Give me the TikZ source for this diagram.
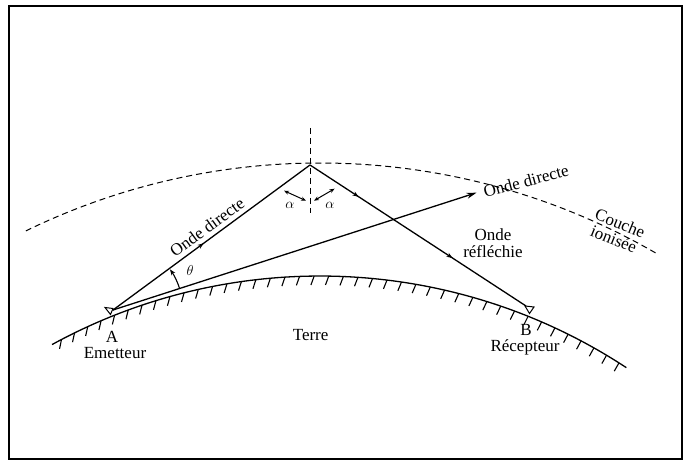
\documentclass[tikz,border=0pt]{standalone}
\usepackage{fontspec}
\setmainfont{Liberation Serif}
\usetikzlibrary{arrows.meta,decorations.markings,calc}
\begin{document}
\begin{tikzpicture}[x=1pt,y=1pt,
  ray/.style={line width=1.3pt},
  dashline/.style={line width=1pt, dash pattern=on 6pt off 4pt},
  lbl/.style={font=\fontsize{17}{17}\selectfont, inner sep=0pt},
  sym/.style={font=\fontsize{15}{15}\selectfont, inner sep=0pt},
  tick/.style={line width=1.1pt},
  smallhead/.style={line width=1pt,{Stealth[length=5pt,width=4pt]}-{Stealth[length=5pt,width=4pt]}},
]
\useasboundingbox (0,0) rectangle (686,460);
\draw[line width=2pt] (9,1) rectangle (682,454);

\coordinate (C) at (320,-374);
% ionised layer
\draw[dashline] ($(C)+(60:671)$) arc[start angle=60,end angle=116,radius=671];
% earth
\draw[line width=1.3pt] ($(C)+(56.7:558)$) arc[start angle=56.7,end angle=118.7,radius=558];
\foreach \a in {57.6,59.1,...,118.2}{
  \pgfmathsetmacro{\dir}{250+0.3*(\a-90)}
  \draw[tick] ($(C)+(\a:558)$) -- ++(\dir:9.5);
}

% points
\coordinate (A) at (113,150);
\coordinate (B) at (526,154);
\coordinate (P) at (310,295);
\coordinate (D) at (476.5,267.3);
\coordinate (Vt) at (310,332);
\coordinate (Vb) at (310,247);

% antennas
\draw[line width=1pt, fill=white] (105,152.5) -- (113,151.5) -- (110.5,145.5) -- cycle;
\draw[line width=1pt, fill=white] (525,154) -- (534,153) -- (529.5,146.5) -- cycle;

% normal
\draw[dashline] (Vt) -- (Vb);

% rays
\draw[ray, postaction={decorate}, decoration={markings,
  mark=at position 0.46 with {\arrow{Stealth[length=6pt,width=4.5pt]}}}] (A) -- (P);
\draw[ray, postaction={decorate}, decoration={markings,
  mark=at position 0.225 with {\arrow{Stealth[length=6pt,width=4.5pt]}},
  mark=at position 0.66 with {\arrow{Stealth[length=6pt,width=4.5pt]}}}] (P) -- (B);
\draw[ray, -{Stealth[length=10pt,width=6pt]}] (A) -- (D);

% alpha arrows
\coordinate (a1) at (284,269.3); \coordinate (a2) at (306,259.3);
\coordinate (a3) at (314,259.3); \coordinate (a4) at (334.6,271.3);
\draw[smallhead] (a1) -- (a2);
\draw[smallhead] (a3) -- (a4);

% theta arc
\draw[line width=1.1pt, -{Stealth[length=6pt,width=4.5pt]}] ($(A)+(17.9:70)$) arc[start angle=17.9,end angle=35.5,radius=70];

% labels
\node[sym] (al1) at (290,255) {$\alpha$};
\node[sym] (al2) at (330,255) {$\alpha$};
\node[sym] (th) at (190,189) {$\theta$};
\node[lbl, rotate=36] (od1) at (207,233) {Onde directe};
\node[lbl, rotate=15] (od2) at (526,279) {Onde directe};
\node[lbl, align=center] (orf) at (493,217) {Onde\\réfléchie};
\node[lbl, align=center, rotate=-22] (ci) at (617,229) {Couche\\ionisée};
\node[lbl] (la) at (112,123.5) {A};
\node[lbl] (em) at (115,107) {Emetteur};
\node[lbl] (te) at (310.6,125) {Terre};
\node[lbl] (lb) at (526,130) {B};
\node[lbl] (re) at (525,112.7) {Récepteur};
\end{tikzpicture}
\end{document}
